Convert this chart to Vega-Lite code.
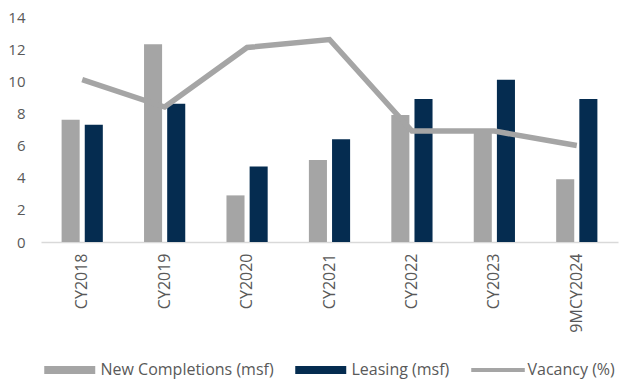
{
  "$schema": "https://vega.github.io/schema/vega-lite/v6.json",
  "width": 577,
  "height": 225,
  "autosize": {"type": "none"},
  "padding": {"left": 41, "top": 17, "right": 4, "bottom": 138},
  "background": "white",
  "config": {
    "view": {"stroke": null},
    "font": "Open Sans",
    "axis": {"labelFont": "Open Sans", "labelColor": "#595959", "grid": false, "ticks": false, "title": null},
    "legend": {"labelFont": "Open Sans", "labelColor": "#595959"}
  },
  "data": {
    "values": [
      {"year": "CY2018", "series": "New Completions (msf)", "value": 7.6},
      {"year": "CY2018", "series": "Leasing (msf)", "value": 7.3},
      {"year": "CY2018", "series": "Vacancy (%)", "value": 10.1},
      {"year": "CY2019", "series": "New Completions (msf)", "value": 12.3},
      {"year": "CY2019", "series": "Leasing (msf)", "value": 8.6},
      {"year": "CY2019", "series": "Vacancy (%)", "value": 8.4},
      {"year": "CY2020", "series": "New Completions (msf)", "value": 2.9},
      {"year": "CY2020", "series": "Leasing (msf)", "value": 4.7},
      {"year": "CY2020", "series": "Vacancy (%)", "value": 12.1},
      {"year": "CY2021", "series": "New Completions (msf)", "value": 5.1},
      {"year": "CY2021", "series": "Leasing (msf)", "value": 6.4},
      {"year": "CY2021", "series": "Vacancy (%)", "value": 12.6},
      {"year": "CY2022", "series": "New Completions (msf)", "value": 7.9},
      {"year": "CY2022", "series": "Leasing (msf)", "value": 8.9},
      {"year": "CY2022", "series": "Vacancy (%)", "value": 6.9},
      {"year": "CY2023", "series": "New Completions (msf)", "value": 7.0},
      {"year": "CY2023", "series": "Leasing (msf)", "value": 10.1},
      {"year": "CY2023", "series": "Vacancy (%)", "value": 6.9},
      {"year": "9MCY2024", "series": "New Completions (msf)", "value": 3.9},
      {"year": "9MCY2024", "series": "Leasing (msf)", "value": 8.9},
      {"year": "9MCY2024", "series": "Vacancy (%)", "value": 6.0}
    ]
  },
  "encoding": {
    "x": {
      "field": "year", "type": "nominal", "sort": null,
      "scale": {"paddingInner": 0.5, "paddingOuter": 0.25},
      "axis": {"labelAngle": -90, "labelFontSize": 16, "labelPadding": 11, "domainColor": "#D9D9D9", "domainWidth": 1.5}
    },
    "y": {
      "field": "value", "type": "quantitative",
      "scale": {"domain": [0, 14], "nice": false},
      "axis": {"values": [0, 2, 4, 6, 8, 10, 12, 14], "domain": false, "labelFontSize": 15, "labelPadding": 16}
    },
    "color": {
      "field": "series", "type": "nominal",
      "scale": {"domain": ["New Completions (msf)", "Leasing (msf)", "Vacancy (%)"], "range": ["#A5A5A5", "#052C50", "#A5A5A5"]},
      "legend": {
        "title": null, "orient": "none", "direction": "horizontal", "legendX": 3, "legendY": 340,
        "labelFontSize": 16, "labelOffset": 30.5, "columnPadding": 21, "labelLimit": 300,
        "symbolType": "M-1,-0.32H3V0.32H-1Z", "symbolSize": 650, "symbolStrokeWidth": 0,
        "symbolOpacity": 1,
        "encode": {"symbols": {"update": {
          "shape": {"signal": "datum.value === 'Vacancy (%)' ? 'M-1,-0.16H3.2V0.16H-1Z' : 'M-1,-0.32H3V0.32H-1Z'"}
        }}}
      }
    }
  },
  "layer": [
    {
      "transform": [{"filter": "datum.series !== 'Vacancy (%)'"}],
      "mark": {"type": "bar"},
      "encoding": {
        "xOffset": {"field": "series", "type": "nominal", "sort": ["New Completions (msf)", "Leasing (msf)"], "scale": {"paddingInner": 0.22}}
      }
    },
    {
      "transform": [{"filter": "datum.series === 'Vacancy (%)'"}],
      "mark": {"type": "line", "strokeWidth": 5.5, "strokeJoin": "miter"}
    }
  ]
}
